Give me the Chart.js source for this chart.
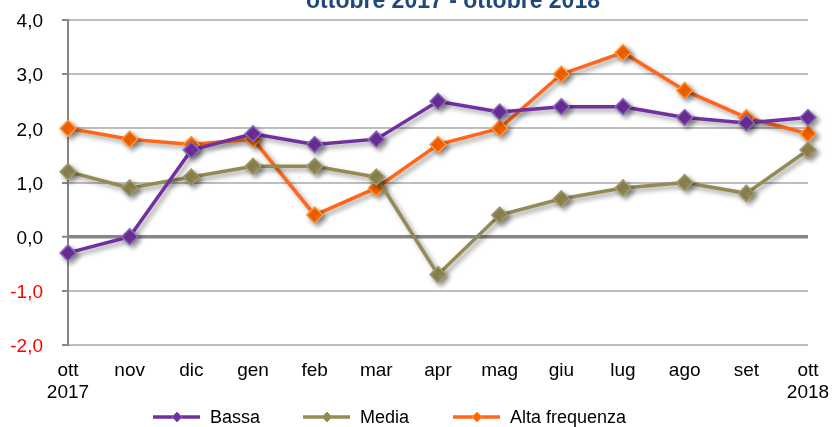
<!DOCTYPE html>
<html>
<head>
<meta charset="utf-8">
<script src="https://cdn.jsdelivr.net/npm/chart.js@4.4.1/dist/chart.umd.min.js"></script>
<style>
  html, body { margin: 0; padding: 0; background: #fff; }
  #wrap { width: 833px; height: 427px; }
</style>
</head>
<body>
<div id="wrap"><canvas id="freqChart" width="833" height="427"></canvas></div>
<script>
// Monthly values, ottobre 2017 - ottobre 2018
const months = [['ott', '2017'], 'nov', 'dic', 'gen', 'feb', 'mar', 'apr', 'mag', 'giu', 'lug', 'ago', 'set', ['ott', '2018']];
const bassa = [-0.3, 0.0, 1.6, 1.9, 1.7, 1.8, 2.5, 2.3, 2.4, 2.4, 2.2, 2.1, 2.2];
const media = [1.2, 0.9, 1.1, 1.3, 1.3, 1.1, -0.7, 0.4, 0.7, 0.9, 1.0, 0.8, 1.6];
const altaFrequenza = [2.0, 1.8, 1.7, 1.8, 0.4, 0.9, 1.7, 2.0, 3.0, 3.4, 2.7, 2.2, 1.9];
const yMin = -2, yMax = 4, yStep = 1;
const titleText = 'ottobre 2017 - ottobre 2018';

Chart.defaults.font.family = "'Liberation Sans', Arial, sans-serif";
Chart.defaults.color = '#000';

function series(label, data, line, marker, edge) {
  return {
    label, data,
    borderColor: line,
    backgroundColor: marker,
    borderWidth: 3.5,
    tension: 0,
    pointStyle: 'rectRot',
    pointRadius: 8,
    pointHoverRadius: 8,
    pointBackgroundColor: marker,
    pointBorderColor: edge,
    pointBorderWidth: 1.5,
    clip: false
  };
}

// soft drop shadow under the lines and markers
const shadowPlugin = {
  id: 'shadow',
  beforeDatasetsDraw(chart) {
    const c = chart.ctx;
    c.save();
    c.shadowColor = 'rgba(0,0,0,0.4)';
    c.shadowBlur = 5;
    c.shadowOffsetX = 3;
    c.shadowOffsetY = 3;
  },
  afterDatasetsDraw(chart) {
    chart.ctx.restore();
  }
};

// title sits at the very top edge
const titlePlugin = {
  id: 'topTitle',
  afterDraw(chart) {
    const c = chart.ctx;
    c.save();
    c.font = "bold 23px 'Liberation Sans', Arial, sans-serif";
    c.fillStyle = '#1F497D';
    c.textAlign = 'center';
    c.textBaseline = 'alphabetic';
    c.fillText(titleText, 453, 8);
    c.restore();
  }
};

// legend: short line with a diamond, then the series name
const lineLegend = {
  id: 'lineLegend',
  afterDraw(chart) {
    const c = chart.ctx;
    const y = 417;
    c.save();
    c.font = "18px 'Liberation Sans', Arial, sans-serif";
    c.textBaseline = 'middle';
    chart.data.datasets.forEach((ds, i) => {
      const x0 = 153 + i * 150;
      c.strokeStyle = ds.borderColor;
      c.lineWidth = 3.5;
      c.beginPath();
      c.moveTo(x0, y);
      c.lineTo(x0 + 47, y);
      c.stroke();
      const r = 5, cx = x0 + 24;
      c.fillStyle = ds.pointBackgroundColor;
      c.strokeStyle = ds.pointBorderColor;
      c.lineWidth = 1;
      c.beginPath();
      c.moveTo(cx, y - r);
      c.lineTo(cx + r, y);
      c.lineTo(cx, y + r);
      c.lineTo(cx - r, y);
      c.closePath();
      c.fill();
      c.stroke();
      c.fillStyle = '#000';
      c.fillText(ds.label, x0 + 57, y + 1);
    });
    c.restore();
  }
};

new Chart(document.getElementById('freqChart'), {
  type: 'line',
  data: {
    labels: months,
    datasets: [
      series('Bassa', bassa, '#7030A0', '#7030A0', '#8D6BB8'),
      series('Media', media, '#948A54', '#948A54', '#A39A68'),
      series('Alta frequenza', altaFrequenza, '#FF6619', '#FF6600', '#FF9A3C')
    ]
  },
  options: {
    responsive: false,
    devicePixelRatio: 1,
    animation: false,
    layout: { autoPadding: false, padding: { top: 20, right: 25, bottom: 0, left: 0 } },
    plugins: {
      legend: { display: false },
      title: { display: false },
      tooltip: { enabled: false }
    },
    scales: {
      x: {
        offset: false,
        grid: { display: false, drawTicks: false },
        border: { display: false },
        ticks: {
          autoSkip: false,
          maxRotation: 0,
          padding: 14,
          color: '#000',
          font: { size: 19 }
        },
        afterFit: s => {
          s.height = 82;
          s.paddingLeft = 0;
          s.paddingRight = 0;
        }
      },
      y: {
        min: yMin,
        max: yMax,
        grid: {
          color: ctx => ctx.tick && ctx.tick.value === 0 ? '#868686' : '#BEBEBE',
          lineWidth: ctx => ctx.tick && ctx.tick.value === 0 ? 3.5 : 2,
          tickColor: '#868686',
          tickLength: 6,
          tickWidth: 2
        },
        border: { display: true, color: '#868686', width: 2 },
        ticks: {
          stepSize: yStep,
          padding: 19,
          labelOffset: 2,
          font: { size: 19 },
          color: ctx => ctx.tick.value < 0 ? '#FF0000' : '#000',
          callback: v => v.toFixed(1).replace('.', ',')
        },
        afterFit: s => {
          s.width = 68;
          s.paddingTop = 0;
          s.paddingBottom = 0;
        }
      }
    }
  },
  plugins: [shadowPlugin, titlePlugin, lineLegend]
});
</script>
</body>
</html>
